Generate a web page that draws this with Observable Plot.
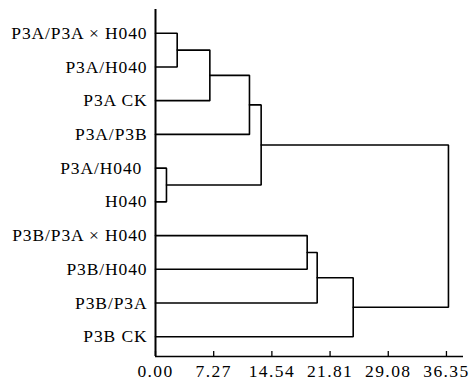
<!DOCTYPE html>
<html><head><meta charset="utf-8">
<script src="https://cdn.jsdelivr.net/npm/d3@7"></script>
<script src="https://cdn.jsdelivr.net/npm/@observablehq/plot@0.6"></script>
<style>
body{margin:0;background:#fff}
svg text{letter-spacing:0.9px}
g[aria-label="x-axis tick label"] text{letter-spacing:1.4px}
</style>
</head><body><div id="chart"></div>
<script>
// leaves, top to bottom
const leaves = ["P3A/P3A × H040","P3A/H040","P3A CK","P3A/P3B","P3A/H040\u00a0","H040","P3B/P3A × H040","P3B/H040","P3B/P3A","P3B CK"];
// merges: node ids 0-9 are leaves, merge k creates node 10+k
const mergeLeft   = [0, 10, 11, 4, 12, 6, 15, 16, 14];
const mergeRight  = [1, 2, 3, 5, 13, 7, 8, 9, 17];
const mergeHeight = [2.71, 6.79, 11.74, 1.37, 13.2, 18.95, 20.2, 24.7, 36.6];
const xTicks = [0, 7.27, 14.54, 21.81, 29.08, 36.35];

const nodeX = leaves.map(() => 0);
const nodeY = leaves.map((d, i) => i);
const path = [];
mergeHeight.forEach((h, k) => {
  const l = mergeLeft[k], r = mergeRight[k];
  nodeX.push(h);
  nodeY.push((nodeY[l] + nodeY[r]) / 2);
  path.push({id: k, x: nodeX[l], y: nodeY[l]});
  path.push({id: k, x: h, y: nodeY[l]});
  path.push({id: k, x: h, y: nodeY[r]});
  path.push({id: k, x: nodeX[r], y: nodeY[r]});
});
const yMin = -0.703, yMax = 9.585;

const chart = Plot.plot({
  width: 471, height: 383,
  marginLeft: 155, marginRight: 8, marginTop: 9, marginBottom: 27,
  x: {domain: [0, 38.48]},
  y: {domain: [yMax, yMin], axis: null},
  style: {fontFamily: "'Liberation Serif', 'DejaVu Serif', serif", fontSize: "17.5px", color: "#000", background: "#fff"},
  marks: [
    Plot.line(path, {x: "x", y: "y", z: "id", stroke: "#000", strokeWidth: 1.6, strokeLinejoin: "miter"}),
    Plot.ruleX([0], {stroke: "#000", strokeWidth: 2}),
    Plot.ruleY([yMax], {stroke: "#000", strokeWidth: 1.7}),
    Plot.axisX({ticks: xTicks, tickFormat: d3.format(".2f"), tickSize: -5, tickPadding: 13, fontSize: 17.5, stroke: "#000", strokeWidth: 1.3, label: null}),
    Plot.text(leaves, {x: 0, y: (d, i) => i, text: d => d, textAnchor: "end", dx: -8, fontSize: 17.5, fill: "#000"})
  ]
});
document.getElementById("chart").appendChild(chart);
</script>
</body></html>
